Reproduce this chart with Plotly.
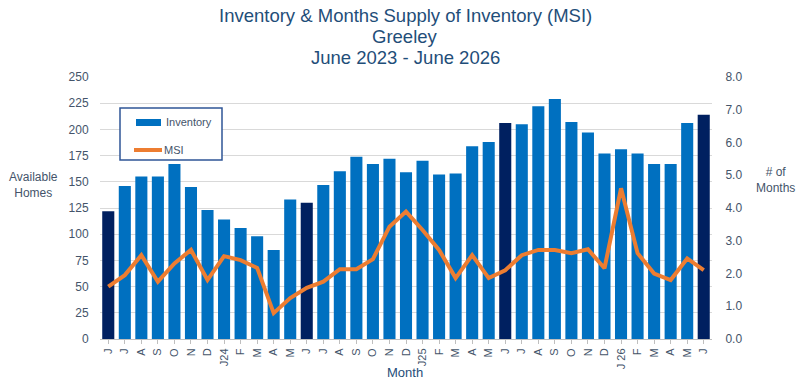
import plotly.graph_objects as go

month_labels = ["J", "J", "A", "S", "O", "N", "D", "J24", "F", "M", "A", "M",
                "J", "J", "A", "S", "O", "N", "D", "J25", "F", "M", "A", "M",
                "J", "J", "A", "S", "O", "N", "D", "J 26", "F", "M", "A", "M", "J"]
inventory = [122, 146, 155, 155, 167, 145, 123, 114, 106, 98, 85, 133,
             130, 147, 160, 174, 167, 172, 159, 170, 157, 158, 184, 188,
             206, 205, 222, 229, 207, 197, 177, 181, 177, 167, 167, 206, 214]
msi = [1.6, 1.95, 2.56, 1.75, 2.31, 2.72, 1.8, 2.53, 2.41, 2.17, 0.79, 1.25,
       1.56, 1.75, 2.13, 2.13, 2.44, 3.43, 3.89, 3.33, 2.72, 1.86, 2.56, 1.86,
       2.1, 2.56, 2.72, 2.72, 2.62, 2.74, 2.16, 4.6, 2.62, 2.0, 1.8, 2.46, 2.1]
title_lines = ["Inventory & Months Supply of Inventory (MSI)", "Greeley", "June 2023 - June 2026"]

x = list(range(len(month_labels)))
bar_colors = ["#002060" if i % 12 == 0 else "#0070C0" for i in x]
BAR = "#0070C0"
LINE = "#ED7D31"

txt = "#44546A"
blue_txt = "#1F4E79"
L, R, T, B = 100, 91, 77, 44
W, H = 803, 383
pw, ph = W - L - R, H - T - B


def px(xp):
    return (xp - L) / pw


def py(yp):
    return (H - B - yp) / ph


fig = go.Figure()
fig.add_trace(go.Bar(x=x, y=inventory, name="Inventory", showlegend=False,
                     marker=dict(color=bar_colors, line=dict(width=0)), yaxis="y"))
fig.add_trace(go.Scatter(x=x, y=msi, name="MSI", mode="lines", showlegend=False,
                         line=dict(color=LINE, width=4), yaxis="y2"))

annotations = []
for yp, line in zip([16, 36, 57], title_lines):
    annotations.append(dict(text=line, x=px(405), y=py(yp), xref="paper", yref="paper",
                            xanchor="center", yanchor="middle", showarrow=False,
                            font=dict(size=18.5, color=blue_txt)))
annotations += [
    dict(text="Available<br>Homes", x=px(33), y=py(185), xref="paper", yref="paper",
         xanchor="center", yanchor="middle", showarrow=False, font=dict(size=12, color=txt)),
    dict(text="# of<br>Months", x=px(775), y=py(180), xref="paper", yref="paper",
         xanchor="center", yanchor="middle", showarrow=False, font=dict(size=12, color=txt)),
    dict(text="Month", x=px(405), y=py(372), xref="paper", yref="paper",
         xanchor="center", yanchor="middle", showarrow=False, font=dict(size=13, color=blue_txt)),
    # legend texts
    dict(text="Inventory", x=px(164), y=py(122), xref="paper", yref="paper",
         xanchor="left", yanchor="middle", showarrow=False, font=dict(size=11, color=txt)),
    dict(text="MSI", x=px(162), y=py(150), xref="paper", yref="paper",
         xanchor="left", yanchor="middle", showarrow=False, font=dict(size=11, color=txt)),
]

shapes = [
    # legend box
    dict(type="rect", xref="paper", yref="paper", x0=px(120), x1=px(222), y0=py(160), y1=py(108),
         line=dict(color="#2F5597", width=1.5), fillcolor="white", layer="above"),
    dict(type="rect", xref="paper", yref="paper", x0=px(136), x1=px(161), y0=py(126), y1=py(119),
         line=dict(width=0), fillcolor=BAR, layer="above"),
    dict(type="line", xref="paper", yref="paper", x0=px(134), x1=px(162), y0=py(150), y1=py(150),
         line=dict(color=LINE, width=4), layer="above"),
]

fig.update_layout(
    width=W, height=H,
    margin=dict(l=L, r=R, t=T, b=B, autoexpand=False),
    paper_bgcolor="white", plot_bgcolor="white",
    font=dict(family="Arial, Liberation Sans, sans-serif", color=txt, size=12),
    bargap=0.27,
    showlegend=False,
    xaxis=dict(tickmode="array", tickvals=x, ticktext=month_labels, tickangle=-90,
               range=[-0.5, len(x) - 0.5], showline=True, linecolor="#BFBFBF",
               ticks="outside", ticklen=4, tickcolor="#BFBFBF", automargin=False,
               tickfont=dict(size=11, color=txt)),
    yaxis=dict(range=[0, 250], dtick=25, showgrid=True, gridcolor="#D9D9D9", zeroline=False,
               tickfont=dict(size=12, color=txt), automargin=False,
               ticks="outside", ticklen=8, tickcolor="rgba(0,0,0,0)"),
    yaxis2=dict(range=[0, 8], dtick=1, tickformat=".1f", overlaying="y", side="right",
                showgrid=False, zeroline=False, tickfont=dict(size=12, color=txt),
                automargin=False, ticks="outside", ticklen=10, tickcolor="rgba(0,0,0,0)"),
    annotations=annotations,
    shapes=shapes,
)

fig.write_html("out.html")
